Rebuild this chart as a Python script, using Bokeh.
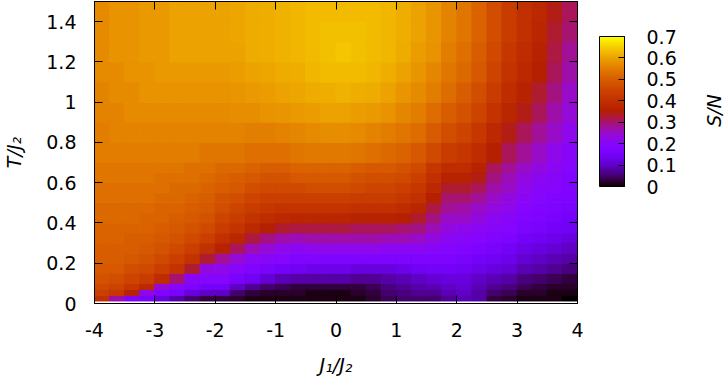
import math
from bokeh.plotting import figure
from bokeh.layouts import row
from bokeh.models import (ColumnDataSource, LinearColorMapper, ColorBar, FixedTicker,
                          LinearAxis, Range1d, Label, CustomJSTickFormatter)
from bokeh.transform import transform
from bokeh.embed import file_html
from bokeh.resources import INLINE

# ---------------- data ----------------
# J1/J2 cell edges (32 columns) and T/J2 cell edges (23 rows)
J1_EDGES = [-4.0, -3.75, -3.5, -3.25, -3.0, -2.75, -2.5, -2.25, -2.0, -1.75, -1.5, -1.25,
            -1.0, -0.75, -0.5, -0.25, 0.0, 0.25, 0.5, 0.75, 1.0, 1.25, 1.5, 1.75,
            2.0, 2.25, 2.5, 2.75, 3.0, 3.25, 3.5, 3.75, 4.0]
T_EDGES = [0.0125, 0.04, 0.07, 0.1, 0.15, 0.2, 0.25, 0.3, 0.35, 0.4, 0.45, 0.5,
           0.55, 0.6, 0.65, 0.7, 0.8, 0.9, 1.0, 1.1, 1.2, 1.3, 1.4, 1.5]

# entropy per site S/N, one list per J1/J2 column (bottom row first)
S_c00 = [0.40, 0.44, 0.46, 0.48, 0.49, 0.50, 0.50, 0.51, 0.51, 0.52, 0.52, 0.53, 0.53, 0.54, 0.54, 0.55, 0.55, 0.56, 0.56, 0.57, 0.57, 0.57, 0.57]
S_c01 = [0.27, 0.42, 0.45, 0.47, 0.49, 0.50, 0.50, 0.51, 0.51, 0.52, 0.52, 0.53, 0.53, 0.54, 0.54, 0.55, 0.56, 0.56, 0.57, 0.57, 0.58, 0.58, 0.58]
S_c02 = [0.18, 0.36, 0.42, 0.45, 0.47, 0.49, 0.50, 0.50, 0.51, 0.52, 0.52, 0.53, 0.53, 0.54, 0.54, 0.55, 0.56, 0.57, 0.57, 0.58, 0.58, 0.58, 0.58]
S_c03 = [0.16, 0.22, 0.38, 0.43, 0.46, 0.48, 0.49, 0.50, 0.51, 0.51, 0.52, 0.53, 0.53, 0.54, 0.54, 0.55, 0.56, 0.57, 0.58, 0.58, 0.59, 0.59, 0.59]
S_c04 = [0.12, 0.18, 0.24, 0.39, 0.44, 0.46, 0.48, 0.49, 0.50, 0.51, 0.51, 0.52, 0.53, 0.53, 0.54, 0.55, 0.56, 0.57, 0.58, 0.59, 0.59, 0.59, 0.59]
S_c05 = [0.08, 0.16, 0.19, 0.30, 0.41, 0.44, 0.46, 0.48, 0.49, 0.50, 0.51, 0.52, 0.52, 0.53, 0.54, 0.55, 0.56, 0.57, 0.58, 0.59, 0.60, 0.60, 0.60]
S_c06 = [0.05, 0.12, 0.17, 0.20, 0.33, 0.41, 0.44, 0.46, 0.48, 0.49, 0.50, 0.51, 0.52, 0.53, 0.53, 0.55, 0.56, 0.57, 0.58, 0.59, 0.60, 0.60, 0.60]
S_c07 = [0.03, 0.10, 0.15, 0.19, 0.23, 0.33, 0.40, 0.44, 0.46, 0.48, 0.49, 0.50, 0.51, 0.52, 0.53, 0.54, 0.56, 0.57, 0.58, 0.59, 0.60, 0.60, 0.60]
S_c08 = [0.03, 0.10, 0.15, 0.19, 0.22, 0.28, 0.36, 0.40, 0.43, 0.45, 0.47, 0.48, 0.50, 0.51, 0.52, 0.54, 0.56, 0.57, 0.58, 0.59, 0.60, 0.60, 0.60]
S_c09 = [0.02, 0.05, 0.10, 0.16, 0.20, 0.24, 0.31, 0.37, 0.41, 0.43, 0.45, 0.47, 0.49, 0.50, 0.52, 0.54, 0.56, 0.575, 0.585, 0.595, 0.60, 0.605, 0.605]
S_c10 = [0.01, 0.03, 0.07, 0.14, 0.18, 0.21, 0.26, 0.32, 0.38, 0.41, 0.43, 0.45, 0.47, 0.49, 0.51, 0.53, 0.555, 0.575, 0.59, 0.60, 0.61, 0.61, 0.61]
S_c11 = [0.01, 0.02, 0.05, 0.11, 0.16, 0.20, 0.24, 0.29, 0.35, 0.39, 0.42, 0.44, 0.46, 0.48, 0.50, 0.53, 0.555, 0.58, 0.595, 0.605, 0.615, 0.615, 0.615]
S_c12 = [0.01, 0.02, 0.04, 0.09, 0.15, 0.19, 0.22, 0.27, 0.33, 0.38, 0.41, 0.44, 0.46, 0.48, 0.50, 0.53, 0.56, 0.585, 0.60, 0.61, 0.62, 0.62, 0.62]
S_c13 = [0.01, 0.02, 0.03, 0.08, 0.14, 0.18, 0.21, 0.26, 0.32, 0.37, 0.41, 0.44, 0.46, 0.49, 0.51, 0.54, 0.565, 0.59, 0.605, 0.615, 0.625, 0.625, 0.625]
S_c14 = [0.01, 0.01, 0.03, 0.08, 0.13, 0.18, 0.22, 0.27, 0.32, 0.37, 0.41, 0.44, 0.47, 0.49, 0.51, 0.545, 0.57, 0.595, 0.61, 0.625, 0.63, 0.63, 0.63]
S_c15 = [0.01, 0.01, 0.03, 0.08, 0.13, 0.17, 0.22, 0.27, 0.32, 0.37, 0.41, 0.44, 0.47, 0.49, 0.51, 0.545, 0.575, 0.60, 0.615, 0.63, 0.635, 0.635, 0.63]
S_c16 = [0.01, 0.01, 0.03, 0.08, 0.13, 0.17, 0.22, 0.27, 0.32, 0.37, 0.41, 0.44, 0.47, 0.49, 0.51, 0.545, 0.575, 0.60, 0.62, 0.63, 0.64, 0.635, 0.63]
S_c17 = [0.01, 0.02, 0.03, 0.07, 0.12, 0.17, 0.22, 0.27, 0.31, 0.36, 0.40, 0.43, 0.46, 0.48, 0.50, 0.54, 0.57, 0.595, 0.615, 0.63, 0.635, 0.635, 0.63]
S_c18 = [0.02, 0.03, 0.04, 0.07, 0.12, 0.17, 0.22, 0.27, 0.31, 0.36, 0.40, 0.43, 0.45, 0.47, 0.49, 0.53, 0.56, 0.59, 0.61, 0.625, 0.63, 0.63, 0.63]
S_c19 = [0.04, 0.05, 0.06, 0.08, 0.12, 0.17, 0.21, 0.26, 0.31, 0.36, 0.40, 0.43, 0.45, 0.47, 0.49, 0.52, 0.55, 0.58, 0.60, 0.615, 0.625, 0.625, 0.625]
S_c20 = [0.05, 0.06, 0.07, 0.09, 0.13, 0.17, 0.21, 0.26, 0.30, 0.35, 0.39, 0.42, 0.44, 0.46, 0.48, 0.51, 0.54, 0.565, 0.585, 0.60, 0.61, 0.615, 0.615]
S_c21 = [0.05, 0.07, 0.08, 0.10, 0.14, 0.17, 0.21, 0.25, 0.29, 0.33, 0.37, 0.40, 0.42, 0.44, 0.46, 0.49, 0.525, 0.55, 0.57, 0.585, 0.595, 0.60, 0.60]
S_c22 = [0.05, 0.07, 0.09, 0.11, 0.15, 0.17, 0.20, 0.23, 0.26, 0.29, 0.32, 0.35, 0.38, 0.40, 0.42, 0.46, 0.495, 0.525, 0.55, 0.565, 0.58, 0.585, 0.585]
S_c23 = [0.07, 0.09, 0.10, 0.12, 0.15, 0.17, 0.19, 0.21, 0.23, 0.25, 0.28, 0.30, 0.33, 0.36, 0.39, 0.43, 0.47, 0.50, 0.525, 0.54, 0.55, 0.56, 0.56]
S_c24 = [0.09, 0.10, 0.11, 0.12, 0.14, 0.16, 0.18, 0.20, 0.22, 0.25, 0.27, 0.30, 0.33, 0.36, 0.39, 0.42, 0.45, 0.48, 0.50, 0.52, 0.53, 0.54, 0.54]
S_c25 = [0.08, 0.08, 0.09, 0.10, 0.13, 0.15, 0.17, 0.19, 0.21, 0.23, 0.25, 0.28, 0.31, 0.34, 0.36, 0.39, 0.42, 0.45, 0.47, 0.49, 0.50, 0.51, 0.51]
S_c26 = [0.03, 0.05, 0.07, 0.09, 0.12, 0.14, 0.16, 0.18, 0.20, 0.21, 0.23, 0.25, 0.27, 0.29, 0.31, 0.35, 0.38, 0.41, 0.43, 0.45, 0.46, 0.47, 0.47]
S_c27 = [0.02, 0.04, 0.06, 0.08, 0.11, 0.13, 0.15, 0.17, 0.19, 0.20, 0.22, 0.23, 0.25, 0.26, 0.28, 0.31, 0.34, 0.37, 0.39, 0.41, 0.42, 0.43, 0.43]
S_c28 = [0.01, 0.02, 0.04, 0.06, 0.09, 0.11, 0.13, 0.15, 0.17, 0.18, 0.19, 0.21, 0.22, 0.23, 0.25, 0.28, 0.31, 0.34, 0.36, 0.38, 0.39, 0.40, 0.40]
S_c29 = [0.01, 0.02, 0.03, 0.05, 0.08, 0.10, 0.12, 0.14, 0.16, 0.17, 0.18, 0.19, 0.20, 0.21, 0.23, 0.25, 0.28, 0.31, 0.33, 0.35, 0.36, 0.37, 0.38]
S_c30 = [0.01, 0.01, 0.02, 0.04, 0.07, 0.09, 0.11, 0.13, 0.15, 0.16, 0.17, 0.18, 0.19, 0.20, 0.21, 0.22, 0.25, 0.27, 0.29, 0.31, 0.32, 0.33, 0.34]
S_c31 = [0.00, 0.01, 0.02, 0.03, 0.06, 0.08, 0.10, 0.12, 0.14, 0.15, 0.16, 0.17, 0.18, 0.18, 0.19, 0.20, 0.22, 0.24, 0.25, 0.27, 0.28, 0.30, 0.31]

S_COLUMNS = [S_c00, S_c01, S_c02, S_c03, S_c04, S_c05, S_c06, S_c07, S_c08, S_c09,
             S_c10, S_c11, S_c12, S_c13, S_c14, S_c15, S_c16, S_c17, S_c18, S_c19,
             S_c20, S_c21, S_c22, S_c23, S_c24, S_c25, S_c26, S_c27, S_c28, S_c29,
             S_c30, S_c31]

X_TICKS = [-4, -3, -2, -1, 0, 1, 2, 3, 4]
Y_TICKS = [0, 0.2, 0.4, 0.6, 0.8, 1.0, 1.2, 1.4]
CB_TICKS = [0, 0.1, 0.2, 0.3, 0.4, 0.5, 0.6, 0.7]
S_MIN, S_MAX = 0.0, 0.7

# ---------------- palette (gnuplot rgbformulae 7,5,15) ----------------
def gp_color(x):
    r = math.sqrt(x)
    g = x ** 3
    b = max(0.0, min(1.0, math.sin(2 * math.pi * x)))
    return "#%02x%02x%02x" % (round(255 * r), round(255 * g), round(255 * b))

PALETTE = [gp_color(i / 255) for i in range(256)]

# ---------------- source ----------------
left, right, bottom, top, sval = [], [], [], [], []
for i, col in enumerate(S_COLUMNS):
    for j, s in enumerate(col):
        left.append(J1_EDGES[i]); right.append(J1_EDGES[i + 1])
        bottom.append(T_EDGES[j]); top.append(T_EDGES[j + 1])
        sval.append(s)
src = ColumnDataSource(dict(left=left, right=right, bottom=bottom, top=top, s=sval))

mapper = LinearColorMapper(palette=PALETTE, low=S_MIN, high=S_MAX)

FONT = "DejaVu Sans"
FS = "19px"

TOTAL_W, H = 724, 381
W = 690                      # main figure width, the rest holds the S/N label
ML, MR, MT, MB = 94, W - 577, 1, 78
FW = W - ML - MR
FH = H - MT - MB

p = figure(width=W, height=H, x_range=Range1d(-4, 4), y_range=Range1d(0, 1.5),
           output_backend="svg", toolbar_location=None,
           min_border_left=ML, min_border_right=MR, min_border_top=MT, min_border_bottom=MB)
p.grid.visible = False
p.outline_line_color = "black"
p.background_fill_color = "white"

p.quad(left="left", right="right", bottom="bottom", top="top", source=src,
       fill_color=transform("s", mapper), line_color=transform("s", mapper), line_width=1)

# main axes
for ax in (p.xaxis[0], p.yaxis[0]):
    ax.major_tick_in = 8
    ax.major_tick_out = 0
    ax.minor_tick_line_color = None
    ax.axis_line_color = "black"
    ax.major_tick_line_color = "black"
    ax.major_label_text_font = FONT
    ax.major_label_text_font_size = FS
    ax.major_label_text_color = "black"
    ax.axis_label_text_font = FONT
    ax.axis_label_text_font_size = FS
    ax.axis_label_text_font_style = "italic"
    ax.axis_label_text_color = "black"

p.xaxis.ticker = FixedTicker(ticks=X_TICKS)
p.yaxis.ticker = FixedTicker(ticks=Y_TICKS)
p.xaxis.formatter = CustomJSTickFormatter(code="return String(tick);")
p.yaxis.formatter = CustomJSTickFormatter(code="return String(Math.round(tick*10)/10);")
p.xaxis.major_label_standoff = 19
p.yaxis.major_label_standoff = 18
p.xaxis.axis_label = "J\u2081/J\u2082"
p.yaxis.axis_label = "T/J\u2082"
p.xaxis.axis_label_standoff = 14
p.yaxis.axis_label_standoff = 18

# mirrored tick axes (top and right)
blank = CustomJSTickFormatter(code="return '';")
top_ax = LinearAxis(ticker=FixedTicker(ticks=X_TICKS), formatter=blank,
                    major_tick_in=8, major_tick_out=0, minor_tick_line_color=None,
                    major_label_standoff=0, major_label_text_font_size="1px",
                    axis_line_color="black", major_tick_line_color="black")
right_ax = LinearAxis(ticker=FixedTicker(ticks=Y_TICKS), formatter=blank,
                      major_tick_in=8, major_tick_out=0, minor_tick_line_color=None,
                      major_label_standoff=0, major_label_text_font_size="1px",
                      axis_line_color="black", major_tick_line_color="black")
p.add_layout(top_ax, "above")
p.add_layout(right_ax, "right")

# colour bar
cb = ColorBar(color_mapper=mapper, ticker=FixedTicker(ticks=CB_TICKS),
              width=25, height=150, location=(FW + 22, FH - 185),
              padding=0, margin=0,
              major_tick_in=6, major_tick_out=0, major_tick_line_color="black",
              minor_tick_line_color=None,
              bar_line_color="black", border_line_color=None,
              background_fill_color=None, background_fill_alpha=0,
              label_standoff=22,
              major_label_text_font=FONT, major_label_text_font_size=FS,
              major_label_text_color="black")
p.add_layout(cb)

# narrow side figure with the same vertical borders, holding the "S/N" title
QW = TOTAL_W - W
q = figure(width=QW, height=H, x_range=Range1d(0, 1), y_range=Range1d(0, 1.5),
           output_backend="svg", toolbar_location=None,
           min_border_left=0, min_border_right=0, min_border_top=MT, min_border_bottom=MB)
q.axis.visible = False
q.grid.visible = False
q.outline_line_color = None
q.background_fill_color = "white"
sn = Label(x=23 / QW, y=(FH - 109) * 1.5 / FH, text="S/N",
           angle=90, angle_units="deg", text_align="center", text_baseline="middle",
           text_font=FONT, text_font_size=FS, text_font_style="italic", text_color="black")
q.add_layout(sn)

layout = row(p, q)
open("out.html", "w").write(file_html(layout, INLINE))
